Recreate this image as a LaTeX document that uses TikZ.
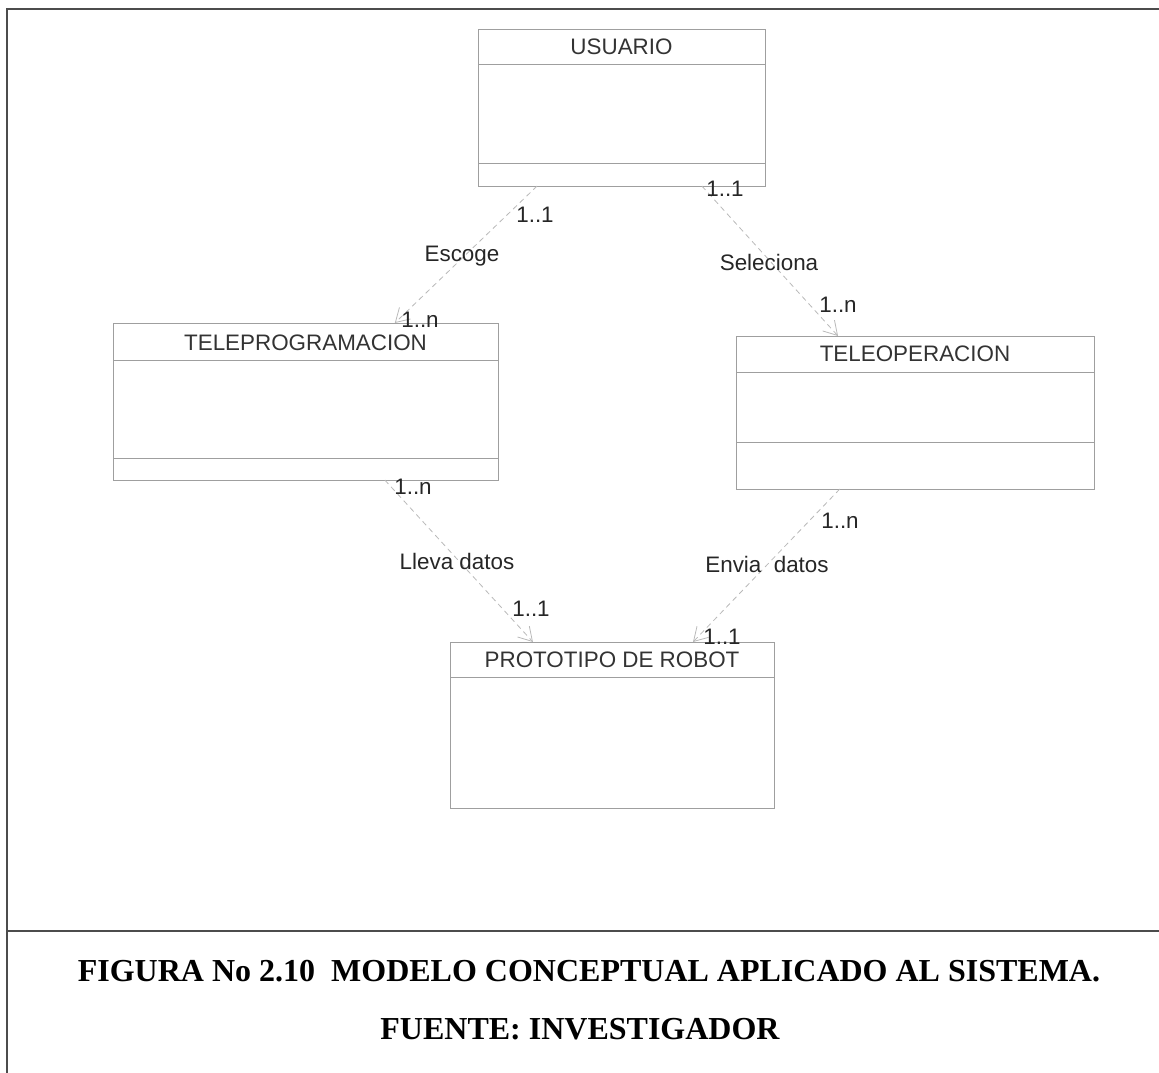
\documentclass[tikz,border=0pt]{standalone}
\usepackage{fontspec}
\setmainfont{Liberation Serif}
\newfontfamily\umlfont{Liberation Sans}
\usetikzlibrary{arrows.meta,positioning,calc}
\newcommand{\px}{0.75pt}

\begin{document}
\begin{tikzpicture}[
		x=0.75pt, y=-0.75pt,
		cls/.style={draw=gray!75, line width=0.6pt, inner sep=0pt, outer sep=0pt},
		clsname/.style={font=\umlfont\fontsize{16.8}{20}\selectfont, text=black!80, inner sep=0pt},
		compline/.style={draw=gray!75, line width=0.6pt},
		assoc/.style={draw=gray!55, dash pattern=on 4pt off 3pt, line width=0.6pt, -{Straight Barb[length=10pt, width=12pt]}},
		mult/.style={font=\umlfont\fontsize{16.8}{20}\selectfont, text=black!85, inner sep=0pt},
		frameline/.style={draw=gray!60!black, line width=1.2pt},
		caption/.style={font=\bfseries\fontsize{24}{28}\selectfont, inner sep=0pt}
		]
		\useasboundingbox (0,0) rectangle (1159,1073);
		
		% --------------------------------------------------
		% Page frame
		% --------------------------------------------------
		\draw[frameline] (1159,9) -- (7,9) -- (7,1073);
		\draw[frameline, line width=0.9pt] (7,931) -- (1159,931);
		
		% --------------------------------------------------
		% Classes
		% --------------------------------------------------
		\node[cls, minimum width=287*\px, minimum height=157*\px] (usuario) at (621.5,107.5) {};
		\node[clsname] (usuarioname) at ($(usuario.north)+(0,17.5)$) {USUARIO};
		\draw[compline] ($(usuario.north west)+(0,35)$) -- ($(usuario.north east)+(0,35)$);
		\draw[compline] ($(usuario.south west)+(0,-23)$) -- ($(usuario.south east)+(0,-23)$);
		
		\node[cls, minimum width=385*\px, minimum height=157*\px] (teleprog) at (305.5,401.5) {};
		\node[clsname] (teleprogname) at ($(teleprog.north)+(0,19.5)$) {TELEPROGRAMACION};
		\draw[compline] ($(teleprog.north west)+(0,37)$) -- ($(teleprog.north east)+(0,37)$);
		\draw[compline] ($(teleprog.south west)+(0,-22)$) -- ($(teleprog.south east)+(0,-22)$);
		
		\node[cls, minimum width=358*\px, minimum height=153*\px] (teleoper) at (915,412.5) {};
		\node[clsname] (teleopername) at ($(teleoper.north)+(0,18)$) {TELEOPERACION};
		\draw[compline] ($(teleoper.north west)+(0,36)$) -- ($(teleoper.north east)+(0,36)$);
		\draw[compline] ($(teleoper.south west)+(0,-47)$) -- ($(teleoper.south east)+(0,-47)$);
		
		\node[cls, minimum width=324*\px, minimum height=166*\px] (robot) at (612,725) {};
		\node[clsname] (robotname) at ($(robot.north)+(0,17.5)$) {PROTOTIPO DE ROBOT};
		\draw[compline] ($(robot.north west)+(0,35)$) -- ($(robot.north east)+(0,35)$);
		
		% --------------------------------------------------
		% Associations
		% --------------------------------------------------
		\draw[assoc] ($(usuario.south west)!0.206!(usuario.south east)$) -- ($(teleprog.north west)!0.732!(teleprog.north east)$);
		\draw[assoc] ($(usuario.south west)!0.780!(usuario.south east)$) -- ($(teleoper.north west)!0.285!(teleoper.north east)$);
		\draw[assoc] ($(teleprog.south west)!0.706!(teleprog.south east)$) -- ($(robot.north west)!0.256!(robot.north east)$);
		\draw[assoc] ($(teleoper.south west)!0.290!(teleoper.south east)$) -- ($(robot.north west)!0.750!(robot.north east)$);
		
		% association names
		\node[mult] (escoge) at (462,256) {Escoge};
		\node[mult] (seleciona) at (769,262) {Seleciona};
		\node[mult] (lleva) at (457,561) {Lleva datos};
		\node[mult] (envia) at (767,564) {Envia\ \ datos};
		
		% multiplicities
		\node[mult] (m1a) at (535,215) {1..1};
		\node[mult] (m1b) at (420,320) {1..n};
		\node[mult] (m2a) at (725,189) {1..1};
		\node[mult] (m2b) at (838,305) {1..n};
		\node[mult] (m3a) at (413,487) {1..n};
		\node[mult] (m3b) at (531,609) {1..1};
		\node[mult] (m4a) at (840,521) {1..n};
		\node[mult] (m4b) at (722,637) {1..1};
		
		% --------------------------------------------------
		% Caption
		% --------------------------------------------------
		\node[caption] (figura) at (589,971) {FIGURA No 2.10\ \ MODELO CONCEPTUAL APLICADO AL SISTEMA.};
		\node[caption] (fuente) at (580,1029) {FUENTE: INVESTIGADOR};
		
	\end{tikzpicture}
\end{document}
